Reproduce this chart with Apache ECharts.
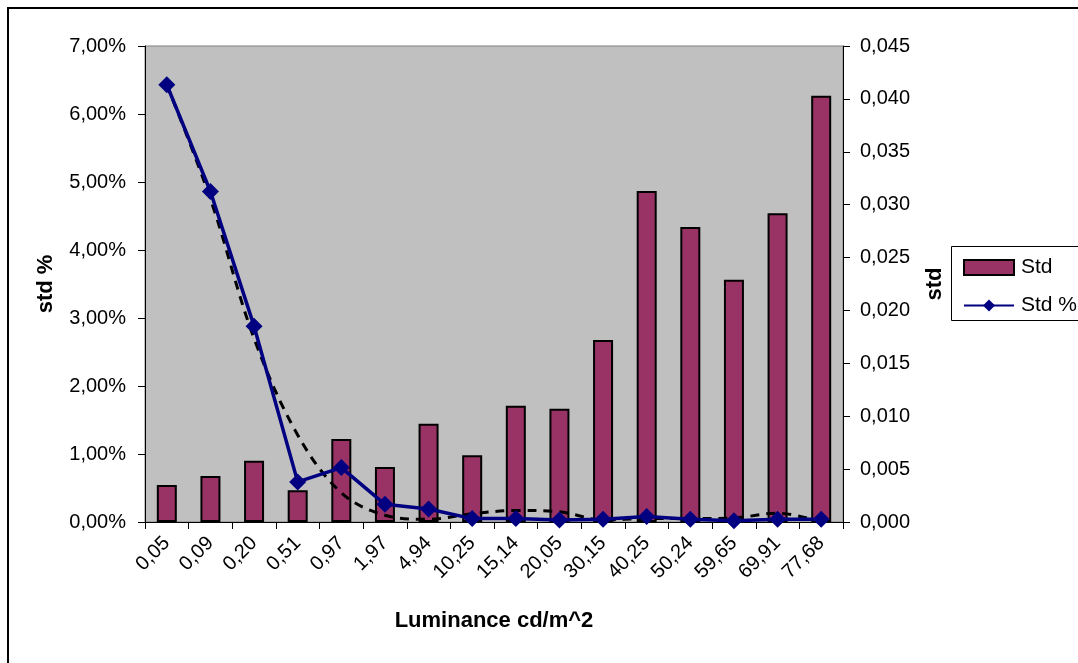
<!DOCTYPE html>
<html>
<head>
<meta charset="utf-8">
<script src="https://cdn.jsdelivr.net/npm/echarts@6/dist/echarts.min.js"></script>
<style>
html,body{margin:0;padding:0;background:#fff;}
#chart{width:1078px;height:663px;}
</style>
</head>
<body>
<div id="chart"></div>
<script>
const categories = ['0,05','0,09','0,20','0,51','0,97','1,97','4,94','10,25','15,14','20,05','30,15','40,25','50,24','59,65','69,91','77,68'];
const stdValues = [0.0035, 0.00435, 0.0058, 0.0030, 0.00785, 0.0052, 0.0093, 0.0063, 0.0110, 0.0107, 0.0172, 0.0313, 0.0279, 0.0229, 0.0292, 0.0403];
const stdPctValues = [6.43, 4.86, 2.88, 0.59, 0.80, 0.26, 0.19, 0.05, 0.05, 0.03, 0.04, 0.08, 0.04, 0.02, 0.04, 0.04];
const trendValues = [6.43, 4.75, 2.70, 1.28, 0.43, 0.10, 0.04, 0.12, 0.17, 0.15, 0.03, 0.05, 0.05, 0.06, 0.13, 0.0];
const leftTicks = {min: 0, max: 7, interval: 1};
const rightTicks = {min: 0, max: 0.045, interval: 0.005};

const FONT = 'Liberation Sans';
const chart = echarts.init(document.getElementById('chart'), null, {renderer: 'canvas'});
chart.setOption({
  animation: false,
  backgroundColor: '#ffffff',
  graphic: [
    {type: 'rect', shape: {x: 8, y: 8, width: 1300, height: 900}, style: {fill: 'none', stroke: '#000', lineWidth: 2}, z: -1},
    {type: 'rect', shape: {x: 951.5, y: 246.5, width: 200, height: 74}, style: {fill: '#fff', stroke: '#000', lineWidth: 1}, z: 0}
  ],
  grid: {left: 145, right: 235, top: 46, bottom: 141, show: true, backgroundColor: '#C0C0C0', borderColor: '#808080', borderWidth: 1},
  legend: {
    orient: 'vertical', left: 958, top: 252, itemWidth: 50, itemHeight: 15, itemGap: 17,
    textStyle: {fontFamily: FONT, fontSize: 21, color: '#000', padding: [0, 0, 0, 2]},
    data: [{name: 'Std', icon: 'rect'}, {name: 'Std %'}], z: 5
  },
  xAxis: {
    type: 'category', data: categories,
    axisLine: {lineStyle: {color: '#000', width: 1}},
    axisTick: {show: true, length: 7, lineStyle: {color: '#000'}},
    axisLabel: {rotate: 45, interval: 0, fontFamily: FONT, fontSize: 20, color: '#000', margin: 18},
    name: 'Luminance cd/m^2', nameLocation: 'middle', nameGap: 88,
    nameTextStyle: {fontFamily: FONT, fontSize: 22, fontWeight: 'bold', color: '#000'}
  },
  yAxis: [
    {
      type: 'value', min: leftTicks.min, max: leftTicks.max, interval: leftTicks.interval, position: 'left',
      axisLine: {show: true, lineStyle: {color: '#000'}},
      axisTick: {show: true, length: 7, lineStyle: {color: '#000'}},
      splitLine: {show: false},
      axisLabel: {fontFamily: FONT, fontSize: 20, color: '#000', margin: 19, formatter: v => v.toFixed(2).replace('.', ',') + '%'},
      name: 'std %', nameLocation: 'middle', nameGap: 88, nameRotate: 90,
      nameTextStyle: {fontFamily: FONT, fontSize: 22, fontWeight: 'bold', color: '#000'}
    },
    {
      type: 'value', min: rightTicks.min, max: rightTicks.max, interval: rightTicks.interval, position: 'right',
      axisLine: {show: true, lineStyle: {color: '#000'}},
      axisTick: {show: true, length: 7, lineStyle: {color: '#000'}},
      splitLine: {show: false},
      axisLabel: {fontFamily: FONT, fontSize: 20, color: '#000', margin: 17, formatter: v => v.toFixed(3).replace('.', ',')},
      name: 'std', nameLocation: 'middle', nameGap: 81, nameRotate: 90,
      nameTextStyle: {fontFamily: FONT, fontSize: 22, fontWeight: 'bold', color: '#000'}
    }
  ],
  series: [
    {
      name: 'Std', type: 'bar', yAxisIndex: 1, data: stdValues, barWidth: 20,
      itemStyle: {color: '#993366', borderColor: '#000', borderWidth: 2}, z: 2
    },
    {
      name: 'Std %', type: 'line', yAxisIndex: 0, data: stdPctValues,
      symbol: 'diamond', symbolSize: 17, lineStyle: {color: '#000080', width: 3.5},
      itemStyle: {color: '#000080'}, z: 4
    },
    {
      name: 'trend', type: 'line', yAxisIndex: 0, data: trendValues, smooth: 0.35,
      symbol: 'none', lineStyle: {color: '#000', width: 3, type: [9, 7]}, z: 3
    }
  ]
});
</script>
</body>
</html>
